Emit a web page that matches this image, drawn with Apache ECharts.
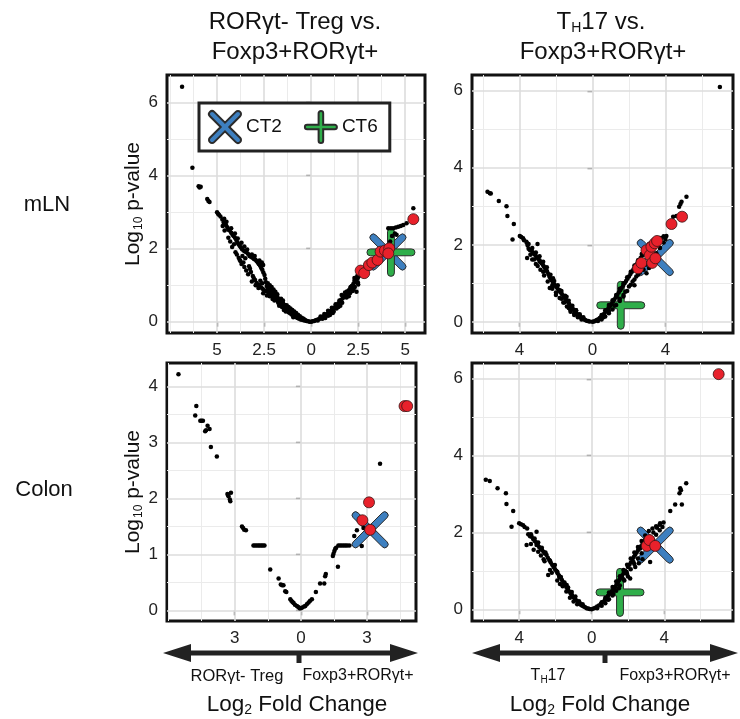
<!DOCTYPE html>
<html><head><meta charset="utf-8">
<script src="https://cdn.jsdelivr.net/npm/echarts@6.0.0/dist/echarts.min.js"></script>
<style>html,body{margin:0;padding:0;background:#fff}#c{width:740px;height:719px}</style>
</head><body><div id="c"></div>
<script>
// ---------------- DATA ----------------
// mLN : RORgt- Treg vs Foxp3+RORgt+
const mlnTregBlack = [
[-6.86,6.44],[-6.31,4.22],[-5.98,3.71],[-5.93,3.68],[-5.87,3.70],[-5.52,3.36],[-5.46,3.31],[-5.40,3.28],[-5.00,3.00],[-4.95,2.96],[-4.90,2.93],[-4.82,2.88],
[-4.72,2.80],[-4.65,2.72],[-4.58,2.70],[-4.52,2.64],[-4.45,2.58],[-4.40,2.52],[-4.33,2.50],[-4.25,2.44],[-4.18,2.38],[-4.12,2.35],[-4.05,2.30],[-3.98,2.24],[-3.92,2.18],[-3.86,2.12],[-3.80,2.08],[-3.74,2.04],[-3.68,1.99],[-3.60,1.95],[-3.52,1.92],[-3.44,1.90],[-3.36,1.86],[-3.28,1.80],[-3.20,1.78],[-3.12,1.75],[-3.04,1.72],[-2.96,1.70],[-2.90,1.66],[-2.84,1.62],[-2.78,1.58],[-2.72,1.54],[-2.66,1.48],[-2.60,1.42],[-2.54,1.35],[-2.48,1.28],[-2.44,1.18],[-2.40,1.08],[-2.36,0.98],
[-4.02,1.90],[-3.95,1.84],[-3.80,1.70],[-3.76,1.66],[-3.60,1.62],[-3.50,1.74],[-3.30,1.52],[-4.30,2.20],[-4.10,2.12],[-3.65,1.80],
[-3.10,1.25],[-3.05,1.20],[-2.98,1.14],[-2.90,1.06],[-2.82,1.02],[-2.74,0.98],[-2.66,0.94],[-2.58,0.90],[-2.50,0.86],[-2.42,0.84],[-2.32,0.82],[-2.24,0.79],[-2.16,0.76],[-2.08,0.72],[-2.00,0.68],[-1.92,0.64],[-1.84,0.60],[-1.76,0.55],[-1.68,0.50],[-1.60,0.46],[-1.52,0.42],[-1.44,0.38],[-1.36,0.34],[-1.28,0.30],[-1.20,0.26],[-1.12,0.23],[-1.04,0.20],[-0.96,0.17],[-0.88,0.14],[-0.80,0.12],[-0.72,0.10],[-0.64,0.08],[-0.56,0.06],[-0.48,0.05],[-0.40,0.04],[-0.32,0.03],[-0.24,0.02],[-0.16,0.01],[-0.08,0.00],[0,0],
[-2.30,0.92],[-2.20,0.90],[-2.10,0.86],[-2.00,0.80],[-1.90,0.74],[-1.80,0.68],[-1.70,0.62],[-1.60,0.56],[-1.50,0.52],[-1.40,0.46],[-1.30,0.40],[-1.20,0.35],[-1.10,0.30],[-1.00,0.26],[-0.90,0.22],[-0.80,0.18],[-0.70,0.14],[-0.60,0.11],[-0.50,0.08],[-0.40,0.06],[-0.30,0.04],
[-2.20,0.70],[-1.95,0.58],[-1.70,0.44],[-1.45,0.32],[-2.60,1.05],[-2.70,1.12],[-3.20,1.36],[-3.25,1.45],
[-1.00,0.32],[-0.90,0.28],[-0.80,0.24],[-0.70,0.19],[-0.60,0.15],[-0.50,0.11],[-0.40,0.08],[-1.20,0.40],[-1.10,0.36],[-1.30,0.45],[-1.50,0.58],[-1.60,0.63],[-1.80,0.75],[-1.90,0.82],[-2.00,0.88],[-2.10,0.95],[-2.20,1.00],[-2.30,1.05],[-1.75,0.52],[-1.55,0.40],[-1.35,0.28],[-0.95,0.12],[-2.05,0.62],[-2.35,0.72],[-2.55,0.78],[-2.80,0.92],[-2.95,1.00],[-3.15,1.10],[-3.35,1.30],[-3.45,1.40],[-3.55,1.50],[-3.70,1.58],[-3.85,1.75],[-4.20,2.05],[-4.40,2.30],[-4.60,2.50],[-4.70,2.62],[-2.55,1.55],[-2.62,1.62],[-2.75,1.68],[-3.00,1.80],[-3.15,1.84],[-3.40,1.98],[-3.55,2.06],[-3.70,2.16],[-3.90,2.28],[-4.05,2.42],[-4.25,2.56],[-4.50,2.74],[-4.62,2.82],
[0.08,0.01],[0.16,0.02],[0.24,0.04],[0.32,0.05],[0.40,0.07],[0.48,0.09],[0.56,0.11],[0.64,0.14],[0.72,0.16],[0.80,0.19],[0.88,0.22],[0.96,0.25],[1.04,0.29],[1.12,0.33],[1.20,0.37],[1.28,0.41],[1.36,0.46],[1.44,0.50],[1.52,0.55],[1.60,0.60],[1.68,0.64],[1.76,0.69],[1.84,0.74],[1.92,0.80],[2.00,0.86],[2.08,0.92],[2.16,0.98],[2.24,1.03],[2.32,1.08],[2.40,1.14],[2.48,1.20],[2.56,1.26],
[0.60,0.08],[0.90,0.16],[1.20,0.28],[1.35,0.36],[1.55,0.44],[1.62,0.73],[1.88,0.66],[2.06,0.78],[2.20,0.84],[2.32,0.95],[2.41,0.82],[2.50,1.02],[2.30,1.20],[1.80,0.80],
[0.50,0.14],[0.70,0.21],[0.90,0.30],[1.10,0.38],[1.30,0.48],[1.50,0.58],[1.70,0.70],[1.90,0.83],[2.10,0.95],[2.30,1.12],[2.45,1.25],[2.55,1.32],[1.00,0.18],[1.15,0.24],[1.45,0.40],[1.65,0.52],[2.00,0.70],[2.25,0.88],[2.48,1.08],[0.35,0.03],[0.75,0.10],
[4.10,2.56],[4.24,2.56],[4.36,2.56],[4.50,2.58],[4.63,2.60],[4.76,2.62],[4.89,2.65],[5.07,2.70],[5.43,3.11],[4.45,2.42],[4.54,2.38],[4.30,2.35],[4.20,2.20]
];
const mlnTregRed = [[2.63,1.40],[2.82,1.33],[3.07,1.55],[3.25,1.62],[3.53,1.69],[3.69,1.92],[3.92,1.95],[4.15,2.01],[4.10,1.87],[5.43,2.81]];
const mlnTregCT2 = [[4.08,1.91]];
const mlnTregCT6 = [[4.24,1.90]];

// mLN : TH17 vs Foxp3+RORgt+
const mlnTh17Black = [
[6.98,6.10],
[-5.75,3.38],[-5.62,3.34],[-5.57,3.33],[-5.13,3.14],[-4.71,3.00],[-4.66,2.75],[-4.31,2.54],[-4.38,2.14],[-3.98,2.23],[-3.90,2.20],[-3.80,2.17],[-3.75,2.12],[-3.62,2.08],[-3.58,2.04],[-3.55,1.98],[-3.01,2.02],[-3.58,1.66],
[-3.50,1.90],[-3.42,1.86],[-3.34,1.86],[-3.28,1.80],[-3.20,1.76],[-3.12,1.72],[-3.05,1.68],[-2.98,1.64],[-2.90,1.60],[-2.84,1.56],[-2.78,1.52],[-2.72,1.48],[-2.66,1.44],[-2.60,1.40],[-2.54,1.34],[-2.48,1.30],[-2.42,1.24],[-2.36,1.18],[-2.30,1.13],[-2.24,1.08],[-2.16,1.02],[-2.08,0.96],[-2.00,0.92],[-1.92,0.87],[-1.84,0.82],[-1.76,0.77],[-1.68,0.72],[-1.60,0.68],[-1.52,0.62],[-1.44,0.57],[-1.36,0.52],[-1.28,0.47],[-1.20,0.42],[-1.12,0.37],[-1.04,0.32],[-0.96,0.27],[-0.88,0.23],[-0.80,0.19],[-0.72,0.15],[-0.64,0.12],[-0.56,0.09],[-0.48,0.07],[-0.40,0.05],[-0.32,0.03],[-0.24,0.02],[-0.16,0.01],[0,0],
[-3.30,1.62],[-2.89,1.56],[-2.52,1.34],[-2.34,0.88],[-2.16,1.13],[-1.79,0.82],[-2.00,0.70],[-1.70,0.60],[-1.42,0.65],[-1.55,0.50],[-1.30,0.36],[-1.15,0.39],[-1.00,0.22],[-0.70,0.17],[-0.90,0.30],[-2.70,1.30],[-3.10,1.50],[-2.20,0.95],[-1.20,0.30],
[-0.50,0.12],[-0.70,0.20],[-0.90,0.30],[-1.10,0.42],[-1.30,0.55],[-1.50,0.68],[-1.70,0.80],[-1.90,0.95],[-2.10,1.06],[-2.30,1.22],[-2.50,1.42],[-2.70,1.56],[-2.90,1.70],[-3.10,1.80],[-3.30,1.92],[-3.50,2.02],[-0.60,0.06],[-0.80,0.12],[-1.00,0.18],[-1.20,0.26],[-1.40,0.40],[-1.60,0.50],[-1.80,0.62],[-2.00,0.76],[-2.20,0.86],[-2.45,1.05],[-2.65,1.20],[-2.85,1.35],[-3.00,1.45],[-3.20,1.62],[-3.40,1.74],
[0.08,0.01],[0.16,0.03],[0.24,0.05],[0.32,0.07],[0.40,0.10],[0.48,0.13],[0.56,0.17],[0.64,0.21],[0.72,0.26],[0.80,0.31],[0.88,0.36],[0.96,0.41],[1.04,0.46],[1.12,0.52],[1.20,0.58],[1.28,0.64],[1.36,0.70],[1.44,0.76],[1.52,0.82],[1.60,0.88],[1.68,0.94],[1.76,1.00],[1.84,1.06],[1.92,1.12],[2.00,1.18],[2.08,1.24],[2.16,1.30],[2.24,1.36],[2.32,1.42],[2.40,1.48],[2.48,1.54],[2.56,1.60],[2.64,1.66],[2.72,1.72],[2.80,1.78],[2.88,1.84],[2.96,1.90],[3.04,1.95],[3.20,2.00],[3.40,2.06],[3.60,2.12],[3.80,2.18],[4.05,2.23],
[0.60,0.12],[0.90,0.28],[1.20,0.42],[1.50,0.60],[1.80,0.78],[2.00,0.92],[2.20,1.05],[2.40,1.18],[2.60,1.28],[2.80,1.35],[2.96,1.26],[3.10,1.40],[1.70,0.70],[2.30,0.95],
[0.30,0.02],[0.50,0.06],[0.70,0.14],[0.90,0.22],[1.10,0.32],[1.30,0.44],[1.50,0.54],[1.70,0.66],[1.90,0.80],[2.10,0.96],[2.30,1.10],[2.50,1.22],[2.70,1.36],[2.90,1.48],[3.10,1.58],[3.30,1.66],[3.50,1.78],[3.70,1.92],[3.90,2.06],[4.00,2.15],
[0.50,0.18],[0.70,0.30],[0.90,0.44],[1.10,0.56],[1.30,0.70],[1.50,0.86],[1.70,1.00],[1.90,1.16],[2.10,1.30],[2.30,1.46],[2.50,1.60],[2.70,1.76],[2.90,1.90],[3.10,2.02],[3.30,2.08],[3.50,2.14],[3.70,2.18],[3.90,2.22],
[4.42,2.73],[4.60,2.75],[4.75,2.99],[4.82,3.06],[4.88,3.12],[5.15,3.25]
];
const mlnTh17Red = [[2.50,1.39],[2.68,1.53],[2.96,1.86],[3.14,1.73],[3.23,1.95],[3.27,1.53],[3.41,2.04],[3.45,1.65],[3.54,2.10],[4.33,2.54],[4.91,2.73]];
const mlnTh17CT2 = [[3.44,1.67]];
const mlnTh17CT6 = [[1.55,0.43]];

// Colon : RORgt- Treg vs Foxp3+RORgt+
const colonTregBlack = [
[-5.55,4.22],[-4.74,3.65],[-4.79,3.48],[-4.56,3.39],[-4.50,3.39],[-4.44,3.39],[-4.34,3.20],[-4.30,3.22],[-4.23,3.30],[-4.14,3.24],[-4.08,2.92],[-3.81,2.75],[-3.33,2.08],[-3.30,2.06],[-3.28,2.04],[-3.20,1.95],[-3.17,2.10],[-3.22,1.98],[-2.67,1.50],[-2.62,1.47],[-2.57,1.44],[-2.49,1.43],
[-2.15,1.16],[-2.08,1.16],[-2.00,1.16],[-1.93,1.16],[-1.86,1.16],[-1.79,1.16],[-1.72,1.16],[-1.65,1.16],
[-1.39,0.73],[-1.01,0.57],[-0.91,0.46],[-0.85,0.45],[-0.79,0.45],[-0.71,0.34],[-0.66,0.33],[-0.48,0.20],[-0.43,0.17],[-0.38,0.15],[-0.33,0.13],[-0.27,0.10],[-0.18,0.08],[-0.12,0.06],[-0.06,0.04],[0.00,0.04],[0.06,0.05],
[0.15,0.07],[0.20,0.08],[0.27,0.11],[0.35,0.14],[0.42,0.17],[0.50,0.20],[0.68,0.33],[0.87,0.48],[1.06,0.48],[1.10,0.61],[1.13,0.65],[1.45,0.97],[1.48,1.01],[1.52,1.06],[1.56,1.10],[1.60,1.12],[1.68,0.78],
[1.70,1.16],[1.78,1.16],[1.86,1.16],[1.94,1.16],[2.02,1.16],[2.10,1.16],[2.20,1.16],
[2.42,1.33],[2.54,1.43],[2.76,1.15],[2.84,1.47],[3.59,2.62]
];
const colonTregRed = [[3.09,1.93],[2.79,1.61],[3.14,1.44],[4.70,3.65],[4.82,3.65]];
const colonTregCT2 = [[3.14,1.44]];

// Colon : TH17 vs Foxp3+RORgt+
const colonTh17Black = [
[-5.84,3.37],[-5.62,3.34],[-5.19,3.15],[-4.73,3.02],[-4.70,2.74],[-4.33,2.56],[-4.42,2.15],[-4.00,2.24],[-3.90,2.21],[-3.78,2.19],[-3.70,2.14],[-3.56,2.10],[-3.59,1.67],[-3.04,2.02],[-3.04,1.67],
[-3.50,1.95],[-3.40,1.90],[-3.31,1.89],[-3.22,1.82],[-3.14,1.78],[-3.06,1.74],[-2.98,1.68],[-2.90,1.62],[-2.82,1.58],[-2.74,1.54],[-2.66,1.50],[-2.58,1.45],[-2.49,1.41],[-2.42,1.34],[-2.34,1.28],[-2.26,1.22],[-2.18,1.16],[-2.10,1.10],[-2.03,1.05],[-1.96,1.00],[-1.88,0.94],[-1.80,0.88],[-1.72,0.82],[-1.64,0.76],[-1.56,0.70],[-1.48,0.64],[-1.40,0.58],[-1.32,0.52],[-1.24,0.46],[-1.16,0.41],[-1.08,0.36],[-1.00,0.31],[-0.92,0.27],[-0.84,0.23],[-0.76,0.19],[-0.68,0.15],[-0.60,0.12],[-0.52,0.09],[-0.44,0.07],[-0.36,0.05],[-0.28,0.03],[-0.20,0.02],[-0.12,0.01],[0,0],
[-2.40,0.89],[-2.03,1.15],[-1.79,0.84],[-1.38,0.63],[-1.10,0.37],[-0.65,0.15],[-2.20,0.95],[-1.90,0.75],[-1.60,0.60],[-1.20,0.30],[-2.80,1.40],[-3.20,1.55],[-2.60,1.25],
[-0.50,0.13],[-0.70,0.21],[-0.90,0.33],[-1.10,0.45],[-1.30,0.57],[-1.50,0.70],[-1.70,0.84],[-1.90,0.98],[-2.10,1.12],[-2.30,1.26],[-2.55,1.48],[-2.75,1.60],[-2.95,1.74],[-3.15,1.84],[-3.35,1.95],[-0.80,0.13],[-1.00,0.20],[-1.40,0.46],[-1.75,0.66],[-2.30,1.02],[-2.65,1.30],[-2.95,1.50],[-3.35,1.70],
[0.10,0.02],[0.20,0.04],[0.30,0.07],[0.40,0.10],[0.50,0.14],[0.64,0.19],[0.72,0.24],[0.80,0.29],[0.90,0.35],[1.00,0.41],[1.10,0.46],[1.19,0.50],[1.28,0.58],[1.36,0.64],[1.44,0.70],[1.52,0.76],[1.60,0.82],[1.68,0.88],[1.76,0.94],[1.84,1.00],[1.93,0.97],[2.00,1.10],[2.08,1.16],[2.16,1.22],[2.30,1.23],[2.24,1.30],[2.32,1.36],[2.40,1.42],[2.48,1.48],[2.56,1.54],[2.67,1.58],[2.72,1.64],[2.80,1.70],[2.88,1.76],[2.96,1.82],[3.04,1.86],[3.22,1.89],[3.40,2.00],[3.60,2.12],[3.77,2.24],[3.96,2.26],
[2.12,0.80],[3.22,1.23],[1.50,0.55],[1.80,0.75],[2.00,0.85],[2.40,1.10],[2.60,1.20],[2.80,1.30],[1.20,0.40],[0.90,0.25],
[0.30,0.03],[0.55,0.09],[0.75,0.16],[0.95,0.26],[1.15,0.36],[1.35,0.48],[1.55,0.62],[1.75,0.78],[1.95,0.92],[2.15,1.04],[2.35,1.18],[2.55,1.32],[2.75,1.46],[2.95,1.58],[3.15,1.70],[3.35,1.82],[3.55,1.94],[3.75,2.06],[3.90,2.14],
[0.55,0.18],[0.75,0.30],[0.95,0.44],[1.15,0.58],[1.35,0.72],[1.55,0.86],[1.75,1.02],[1.95,1.16],[2.15,1.32],[2.35,1.48],[2.55,1.62],[2.75,1.78],[2.95,1.92],[3.15,2.04],[3.35,2.10],[3.55,2.16],[3.75,2.20],
[4.33,2.56],[4.60,2.73],[4.97,2.73],[4.84,3.02],[4.88,3.15],[4.92,3.10],[5.21,3.28]
];
const colonTh17Red = [[7.00,6.12],[3.04,1.65],[3.18,1.80],[3.50,1.65]];
const colonTh17CT2 = [[3.50,1.67]];
const colonTh17CT6 = [[1.56,0.44]];

// tick values
const mlnTregXTicks = [-5, -2.5, 0, 2.5, 5];
const mlnTregXMinor = [-7.5, -6.25, -3.75, -1.25, 1.25, 3.75];
const th17XTicks = [-4, 0, 4];
const th17XMinor = [-6, -2, 2, 6];
const mlnYTicks = [0, 2, 4, 6];
const mlnYMinor = [1, 3, 5];
const colonTregXTicks = [-3, 0, 3];
const colonTregXMinor = [-6, -4.5, -1.5, 1.5, 4.5];
const colonTregYTicks = [0, 1, 2, 3, 4];
const colonTregYMinor = [0.5, 1.5, 2.5, 3.5];

// ---------------- STYLE / LAYOUT ----------------
const FONT = '"Liberation Sans", Arial, Helvetica, sans-serif';
const PLUS = 'path://M43 8A7 7 0 0 1 57 8L57 43L92 43A7 7 0 0 1 92 57L57 57L57 92A7 7 0 0 1 43 92L43 57L8 57A7 7 0 0 1 8 43L43 43Z';
const CROSS = 'path://M74.75 15.35A7 7 0 0 1 84.65 25.25L59.9 50L84.65 74.75A7 7 0 0 1 74.75 84.65L50 59.9L25.25 84.65A7 7 0 0 1 15.35 74.75L40.1 50L15.35 25.25A7 7 0 0 1 25.25 15.35L50 40.1Z';
const BLUE = '#3d7fbf', GREEN = '#2fae4a', RED = '#e8212b';

const panels = [
  {grid:{left:167, top:75, width:258, height:258}, x:[-7.66,6.05], y:[-0.31,6.76],
   xt:mlnTregXTicks, xm:mlnTregXMinor, yt:mlnYTicks, ym:mlnYMinor, ytitle:true,
   black:mlnTregBlack, red:mlnTregRed, ct2:mlnTregCT2, ct6:mlnTregCT6},
  {grid:{left:472, top:75, width:261, height:258}, x:[-6.6,7.7], y:[-0.29,6.41],
   xt:th17XTicks, xm:th17XMinor, yt:mlnYTicks, ym:mlnYMinor, ytitle:false,
   black:mlnTh17Black, red:mlnTh17Red, ct2:mlnTh17CT2, ct6:mlnTh17CT6},
  {grid:{left:167, top:363, width:249, height:258}, x:[-6.07,5.22], y:[-0.19,4.42],
   xt:colonTregXTicks, xm:colonTregXMinor, yt:colonTregYTicks, ym:colonTregYMinor, ytitle:true,
   black:colonTregBlack, red:colonTregRed, ct2:colonTregCT2, ct6:null},
  {grid:{left:472, top:363, width:261, height:258}, x:[-6.6,7.79], y:[-0.305,6.41],
   xt:th17XTicks, xm:th17XMinor, yt:mlnYTicks, ym:mlnYMinor, ytitle:false,
   black:colonTh17Black, red:colonTh17Red, ct2:colonTh17CT2, ct6:colonTh17CT6}
];

const grids = [], xAxes = [], yAxes = [], series = [];
const majorLS = {color:'#dcdcdc', width:1.6, type:'solid', opacity:1};
const minorLS = {color:'#ebebeb', width:1, type:'solid', opacity:1};
const yName = '{a|Log}{s|10}{a| p-value}';
const nameRich = {a:{fontSize:21, fontFamily:FONT, color:'#111'}, s:{fontSize:12, fontFamily:FONT, color:'#111', padding:[10,0,0,1]}};

panels.forEach((p, i) => {
  grids.push(Object.assign({show:true, borderColor:'#111', borderWidth:3, backgroundColor:'transparent', containLabel:false}, p.grid));
  xAxes.push({gridIndex:i, type:'value', min:p.x[0], max:p.x[1],
    axisLine:{show:false}, splitLine:{show:false},
    axisTick:{show:true, customValues:p.xt, length:5, lineStyle:{color:'#333', width:1.3}},
    axisLabel:{customValues:p.xt, formatter:v=>String(Math.abs(v)), fontSize:17, color:'#222', fontFamily:FONT, margin:9}});
  yAxes.push({gridIndex:i, type:'value', min:p.y[0], max:p.y[1],
    axisLine:{show:false}, splitLine:{show:false},
    axisTick:{show:true, customValues:p.yt, length:5, lineStyle:{color:'#333', width:1.3}},
    axisLabel:{customValues:p.yt, fontSize:17, color:'#222', fontFamily:FONT, margin:9},
    name: p.ytitle ? yName : '', nameLocation:'middle', nameRotate:90, nameGap:19,
    nameTextStyle:{rich:nameRich}});
  const ml = [];
  p.xm.forEach(v => ml.push({xAxis:v, lineStyle:minorLS}));
  p.ym.forEach(v => ml.push({yAxis:v, lineStyle:minorLS}));
  p.xt.forEach(v => ml.push({xAxis:v, lineStyle:majorLS}));
  p.yt.forEach(v => ml.push({yAxis:v, lineStyle:majorLS}));
  series.push({type:'scatter', name:'grid'+i, xAxisIndex:i, yAxisIndex:i, data:[], z:1, silent:true,
    markLine:{silent:true, z:1, symbol:['none','none'], label:{show:false}, animation:false, data:ml,
      emphasis:{disabled:true}, lineStyle:{opacity:1}}});
  series.push({type:'scatter', name:'CT2', xAxisIndex:i, yAxisIndex:i, data:p.ct2, symbol:CROSS, symbolSize:36, z:2, silent:true,
    itemStyle:{color:BLUE, borderColor:'#2b2b2b', borderWidth:1, opacity:1}});
  if (p.ct6) series.push({type:'scatter', name:'CT6', xAxisIndex:i, yAxisIndex:i, data:p.ct6, symbol:PLUS, symbolSize:48, z:2, silent:true,
    itemStyle:{color:GREEN, borderColor:'#2b2b2b', borderWidth:1, opacity:1}});
  series.push({type:'scatter', name:'black'+i, xAxisIndex:i, yAxisIndex:i, data:p.black, symbolSize:4.5, z:3, silent:true,
    itemStyle:{color:'#000', opacity:1}});
  series.push({type:'scatter', name:'red'+i, xAxisIndex:i, yAxisIndex:i, data:p.red, symbolSize:11, z:4, silent:true,
    itemStyle:{color:RED, borderColor:'#3a1414', borderWidth:0.8, opacity:1}});
});

function txt(x, y, text, size, rich) {
  const st = {text:text, x:0, y:0, fontSize:size, fontFamily:FONT, fill:'#111',
    align:'center', verticalAlign:'middle', textAlign:'center', textVerticalAlign:'middle'};
  if (rich) st.rich = rich;
  return {type:'text', x:x, y:y, style:st, silent:true};
}
function richSub(size, subSize, drop) {
  return {n:{fontSize:size, fontFamily:FONT, fill:'#111', color:'#111'},
          s:{fontSize:subSize, fontFamily:FONT, fill:'#111', color:'#111', padding:[drop,0,0,0]}};
}
function arrow(x0, x1, y, notch) {
  const hl = 28, hh = 9, st = 2.6;
  return [
    {type:'polygon', silent:true, shape:{points:[[x0,y],[x0+hl,y-hh],[x0+hl,y-st],[x1-hl,y-st],[x1-hl,y-hh],[x1,y],[x1-hl,y+hh],[x1-hl,y+st],[x0+hl,y+st],[x0+hl,y+hh]]}, style:{fill:'#222'}},
    {type:'rect', silent:true, shape:{x:notch-2.5, y:y, width:5, height:10}, style:{fill:'#222'}}
  ];
}

const graphics = [
  txt(295, 22, 'RORγt- Treg vs.', 24),
  txt(295, 52, 'Foxp3+RORγt+', 24),
  txt(601, 22, '{n|T}{s|H}{n|17 vs.}', 24, richSub(24, 14, 12)),
  txt(603, 52, 'Foxp3+RORγt+', 24),
  txt(47, 205, 'mLN', 22),
  txt(44, 490, 'Colon', 22),
  ...arrow(163, 418, 653, 299),
  ...arrow(472, 738, 653, 605),
  txt(237, 676, 'RORγt- Treg', 16.5),
  txt(358, 676, 'Foxp3+RORγt+', 16),
  txt(548, 676, '{n|T}{s|H}{n|17}', 16, richSub(16, 10, 8)),
  txt(675, 676, 'Foxp3+RORγt+', 16),
  txt(297, 705, '{n|Log}{s|2}{n| Fold Change}', 22.5, richSub(22.5, 14, 10)),
  txt(600, 705, '{n|Log}{s|2}{n| Fold Change}', 22.5, richSub(22.5, 14, 10))
];

const chart = echarts.init(document.getElementById('c'), null, {renderer:'canvas'});
chart.setOption({
  backgroundColor:'#fff',
  animation:false,
  textStyle:{fontFamily:FONT},
  grid:grids, xAxis:xAxes, yAxis:yAxes, series:series,
  legend:{data:['CT2','CT6'], left:199, top:103, orient:'horizontal', itemWidth:32, itemHeight:32, itemGap:22,
    padding:[7,12,7,9], borderColor:'#222', borderWidth:3, backgroundColor:'#fff', borderRadius:0,
    selectedMode:false, textStyle:{fontSize:19, color:'#111', fontFamily:FONT}},
  graphic:graphics
});
</script></body></html>
